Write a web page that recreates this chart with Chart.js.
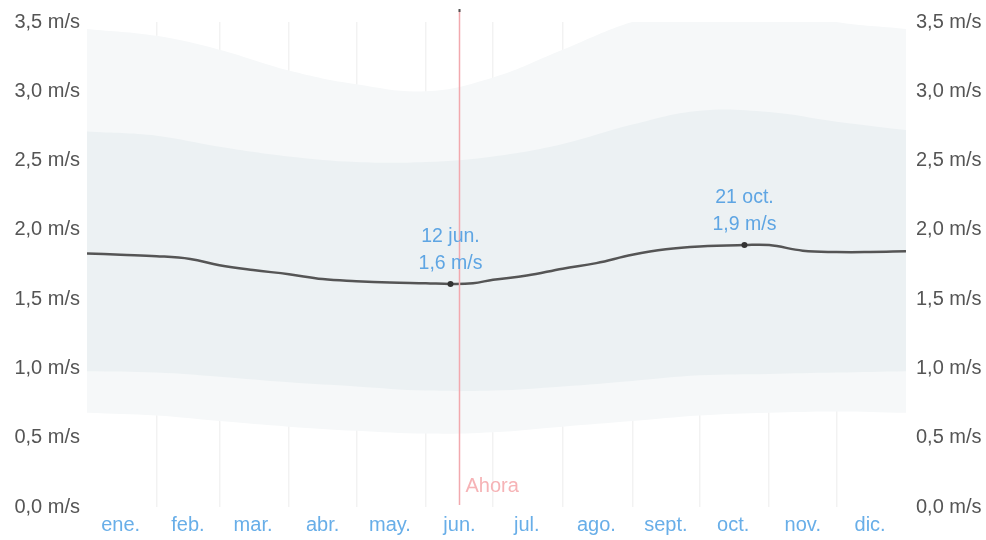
<!DOCTYPE html>
<html>
<head>
<meta charset="utf-8">
<script src="https://cdn.jsdelivr.net/npm/chart.js@4.4.0/dist/chart.umd.min.js"></script>
<style>
  html, body { margin: 0; padding: 0; background: #fff; }
</style>
</head>
<body>
<canvas id="windChart" width="986" height="540"></canvas>
<script>
// month names and positions (day of year)
var monthLabels = ['ene.', 'feb.', 'mar.', 'abr.', 'may.', 'jun.', 'jul.', 'ago.', 'sept.', 'oct.', 'nov.', 'dic.'];
var monthStarts = [0, 31, 59, 90, 120, 151, 181, 212, 243, 273, 304, 334, 365];
var monthMids = [15, 45, 74, 105, 135, 166, 196, 227, 258, 288, 319, 349];

// average wind speed (m/s)
var avgDays = [0, 15, 31, 46, 59, 74, 90, 105, 120, 135, 151, 162, 172, 181, 196, 212, 227, 243, 258, 273, 293, 304, 319, 334, 349, 365];
var avgSpeed = [1.83, 1.82, 1.81, 1.79, 1.745, 1.71, 1.68, 1.645, 1.63, 1.62, 1.615, 1.61, 1.615, 1.64, 1.67, 1.72, 1.76, 1.82, 1.86, 1.88, 1.89, 1.89, 1.85, 1.84, 1.84, 1.845];

// percentile bands
var bandDays = [0, 31, 59, 90, 120, 151, 181, 212, 243, 273, 304, 334, 365];
var p10 = [0.68, 0.66, 0.62, 0.58, 0.55, 0.53, 0.54, 0.58, 0.62, 0.66, 0.68, 0.69, 0.68];
var p25 = [0.98, 0.97, 0.94, 0.9, 0.87, 0.84, 0.84, 0.87, 0.91, 0.95, 0.96, 0.97, 0.98];
var p75 = [2.71, 2.68, 2.6, 2.53, 2.49, 2.49, 2.53, 2.62, 2.76, 2.86, 2.85, 2.78, 2.72];
var p90 = [3.45, 3.4, 3.3, 3.15, 3.05, 3.0, 3.1, 3.3, 3.5, 3.6, 3.6, 3.5, 3.45];

// marked extremes
var markDays = [162, 293];
var markSpeed = [1.61, 1.89];
var markDate = ['12 jun.', '21 oct.'];
var markText = ['1,6 m/s', '1,9 m/s'];

var nowDay = 166;

function pts(xs, ys) {
    return xs.map(function (x, i) { return { x: x, y: ys[i] }; });
}

function fmtSpeed(v) {
    return v.toFixed(1).replace('.', ',') + ' m/s';
}

var FONT = 'Liberation Sans, Arial, sans-serif';

var extrasPlugin = {
    id: 'extras',
    afterDatasetsDraw: function (chart) {
        var ctx = chart.ctx;
        var xs = chart.scales.x, ys = chart.scales.y;
        ctx.save();
        // "Ahora" line
        var nx = Math.round(xs.getPixelForValue(nowDay)) + 0.5;
        ctx.strokeStyle = '#f2a9ae';
        ctx.lineWidth = 1.5;
        ctx.beginPath();
        ctx.moveTo(nx, 10);
        ctx.lineTo(nx, chart.chartArea.bottom - 2);
        ctx.stroke();
        ctx.fillStyle = '#555';
        ctx.fillRect(nx - 1, 9, 2, 3);
        ctx.font = '20px ' + FONT;
        ctx.fillStyle = '#f6b3b6';
        ctx.textAlign = 'left';
        ctx.textBaseline = 'middle';
        ctx.fillText('Ahora', nx + 6, 486);

        // extreme labels
        ctx.font = '19.5px ' + FONT;
        ctx.fillStyle = '#5ea5e3';
        ctx.textAlign = 'center';
        for (var i = 0; i < markDays.length; i++) {
            var px = xs.getPixelForValue(markDays[i]);
            var py = ys.getPixelForValue(markSpeed[i]);
            ctx.fillText(markText[i], px, py - 20);
            ctx.fillText(markDate[i], px, py - 47);
        }
        ctx.restore();
    }
};

var ctx = document.getElementById('windChart').getContext('2d');

var windChart = new Chart(ctx, {
    type: 'line',
    data: {
        datasets: [{
            data: pts(bandDays, p10),
            borderWidth: 0,
            pointRadius: 0,
            tension: 0.4,
            fill: false,
            order: 10
        }, {
            data: pts(bandDays, p90),
            borderWidth: 0,
            pointRadius: 0,
            tension: 0.4,
            fill: 0,
            backgroundColor: '#f6f8f9',
            order: 10
        }, {
            data: pts(bandDays, p25),
            borderWidth: 0,
            pointRadius: 0,
            tension: 0.4,
            fill: false,
            order: 5
        }, {
            data: pts(bandDays, p75),
            borderWidth: 0,
            pointRadius: 0,
            tension: 0.4,
            fill: 2,
            backgroundColor: '#ecf1f3',
            order: 5
        }, {
            data: pts(avgDays, avgSpeed),
            borderColor: '#555555',
            borderWidth: 2.5,
            pointRadius: 0,
            tension: 0.4,
            fill: false,
            order: 1
        }, {
            type: 'scatter',
            data: pts(markDays, markSpeed),
            pointRadius: 3,
            pointBackgroundColor: '#333333',
            pointBorderWidth: 0,
            order: 0
        }]
    },
    options: {
        responsive: false,
        animation: false,
        layout: { padding: { top: 20, left: 0, right: 0, bottom: 0 } },
        plugins: {
            legend: { display: false },
            tooltip: { enabled: false }
        },
        scales: {
            x: {
                type: 'linear',
                position: 'bottom',
                min: 0,
                max: 365,
                z: 1,
                afterBuildTicks: function (scale) {
                    scale.ticks = monthStarts.slice(1, 12).map(function (v) { return { value: v }; });
                },
                afterFit: function (scale) { scale.height = 0; },
                grid: { color: 'rgba(0,0,0,0.05)', lineWidth: 1.5, drawTicks: false },
                border: { display: false },
                ticks: { display: false }
            },
            x2: {
                type: 'linear',
                position: 'bottom',
                min: 0,
                max: 365,
                afterBuildTicks: function (scale) {
                    scale.ticks = monthMids.map(function (v) { return { value: v }; });
                },
                afterFit: function (scale) { scale.height = 33; },
                grid: { display: false, drawTicks: false },
                border: { display: false },
                ticks: {
                    padding: 6,
                    autoSkip: false,
                    maxRotation: 0,
                    color: '#68aee8',
                    font: { size: 20, family: FONT },
                    callback: function (value, index) { return monthLabels[index]; }
                }
            },
            y: {
                position: 'left',
                min: 0,
                max: 3.5,
                afterFit: function (scale) { scale.width = 87; },
                grid: { display: false, drawTicks: false },
                border: { display: false },
                ticks: {
                    stepSize: 0.5,
                    autoSkip: false,
                    padding: 7,
                    color: '#555',
                    font: { size: 20, family: FONT },
                    callback: function (v) { return fmtSpeed(v); }
                }
            },
            y2: {
                position: 'right',
                min: 0,
                max: 3.5,
                afterFit: function (scale) { scale.width = 80; },
                grid: { display: false, drawTicks: false },
                border: { display: false },
                ticks: {
                    stepSize: 0.5,
                    autoSkip: false,
                    padding: 10,
                    color: '#555',
                    font: { size: 20, family: FONT },
                    callback: function (v) { return fmtSpeed(v); }
                }
            }
        }
    },
    plugins: [extrasPlugin]
});
</script>
</body>
</html>
